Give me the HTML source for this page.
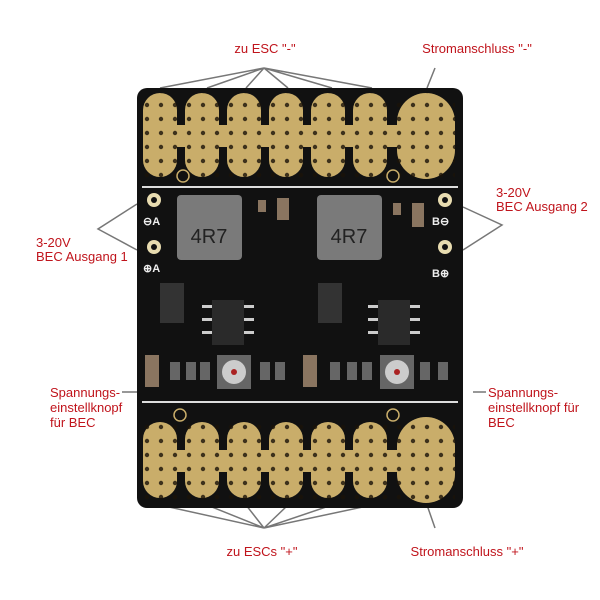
<!DOCTYPE html>
<html><head><meta charset="utf-8"><style>
body{margin:0;background:#fff;}
svg{display:block;font-family:"Liberation Sans",sans-serif;}
</style></head><body>
<svg width="600" height="600" viewBox="0 0 600 600">
<defs>
<pattern id="holes" x="0" y="0" width="14" height="14" patternUnits="userSpaceOnUse">
<circle cx="7" cy="7" r="2.2" fill="#1a1208"/>
</pattern>
</defs>
<g stroke="#777" stroke-width="1.5" fill="none">
<path d="M264 68L160 88M264 68L207 88M264 68L246 88M264 68L288 88M264 68L332 88M264 68L372 88M435 68L427 88"/>
<path d="M264 528L160 505M264 528L207 505M264 528L246 505M264 528L288 505M264 528L332 505M264 528L372 505M435 528L427 505"/>
<path d="M137 204L98 229L137 250M463 207L502 225L463 250"/>
<path d="M122 392L140 392M473 392L486 392"/>
</g>
<rect x="137" y="88" width="326" height="420" rx="10" fill="#111"/>
<g fill="#c9ad6a">
<rect x="143" y="125" width="310" height="22"/>
<rect x="143" y="93" width="34" height="84" rx="17"/>
<rect x="185" y="93" width="34" height="84" rx="17"/>
<rect x="227" y="93" width="34" height="84" rx="17"/>
<rect x="269" y="93" width="34" height="84" rx="17"/>
<rect x="311" y="93" width="34" height="84" rx="17"/>
<rect x="353" y="93" width="34" height="84" rx="17"/>
<rect x="397" y="93" width="58" height="86" rx="29"/>
<rect x="143" y="450" width="310" height="22"/>
<rect x="143" y="422" width="34" height="76" rx="17"/>
<rect x="185" y="422" width="34" height="76" rx="17"/>
<rect x="227" y="422" width="34" height="76" rx="17"/>
<rect x="269" y="422" width="34" height="76" rx="17"/>
<rect x="311" y="422" width="34" height="76" rx="17"/>
<rect x="353" y="422" width="34" height="76" rx="17"/>
<rect x="397" y="417" width="58" height="86" rx="29"/>
</g>
<rect x="143" y="93" width="312" height="86" fill="url(#holes)" opacity=".8"/>
<rect x="143" y="417" width="312" height="86" fill="url(#holes)" opacity=".8"/>
<rect x="142" y="186" width="316" height="2" fill="#ddd"/>
<rect x="142" y="401" width="316" height="2" fill="#ddd"/>
<g fill="none" stroke="#c9ad6a" stroke-width="1.5">
<circle cx="183" cy="176" r="6"/><circle cx="393" cy="176" r="6"/>
<circle cx="180" cy="415" r="6"/><circle cx="393" cy="415" r="6"/>
</g>
<g fill="#e8dcb0"><circle cx="154" cy="200" r="7"/><circle cx="154" cy="247" r="7"/><circle cx="445" cy="200" r="7"/><circle cx="445" cy="247" r="7"/></g>
<g fill="#111"><circle cx="154" cy="200" r="3"/><circle cx="154" cy="247" r="3"/><circle cx="445" cy="200" r="3"/><circle cx="445" cy="247" r="3"/></g>
<g fill="#eee" font-size="11" font-weight="bold">
<text x="143" y="225">⊖A</text><text x="143" y="272">⊕A</text>
<text x="432" y="225">B⊖</text><text x="432" y="277">B⊕</text>
</g>
<rect x="177" y="195" width="65" height="65" rx="4" fill="#7a7a7a"/>
<rect x="317" y="195" width="65" height="65" rx="4" fill="#7a7a7a"/>
<text x="209" y="243" font-size="20" text-anchor="middle" fill="#222">4R7</text>
<text x="349" y="243" font-size="20" text-anchor="middle" fill="#222">4R7</text>
<g fill="#8a7560"><rect x="277" y="198" width="12" height="22"/><rect x="412" y="203" width="12" height="24"/><rect x="145" y="355" width="14" height="32"/><rect x="303" y="355" width="14" height="32"/><rect x="258" y="200" width="8" height="12"/><rect x="393" y="203" width="8" height="12"/></g>
<rect x="160" y="283" width="24" height="40" fill="#333"/><rect x="318" y="283" width="24" height="40" fill="#333"/>
<rect x="212" y="300" width="32" height="45" fill="#2a2a2a"/><rect x="378" y="300" width="32" height="45" fill="#2a2a2a"/>
<g fill="#ccc"><rect x="202" y="305" width="10" height="3"/><rect x="202" y="318" width="10" height="3"/><rect x="202" y="331" width="10" height="3"/><rect x="244" y="305" width="10" height="3"/><rect x="244" y="318" width="10" height="3"/><rect x="244" y="331" width="10" height="3"/>
<rect x="368" y="305" width="10" height="3"/><rect x="368" y="318" width="10" height="3"/><rect x="368" y="331" width="10" height="3"/><rect x="410" y="305" width="10" height="3"/><rect x="410" y="318" width="10" height="3"/><rect x="410" y="331" width="10" height="3"/></g>
<rect x="217" y="355" width="34" height="34" fill="#666"/><circle cx="234" cy="372" r="12" fill="#ccc"/><circle cx="234" cy="372" r="3" fill="#a22"/>
<rect x="380" y="355" width="34" height="34" fill="#666"/><circle cx="397" cy="372" r="12" fill="#ccc"/><circle cx="397" cy="372" r="3" fill="#a22"/>
<g fill="#666"><rect x="170" y="362" width="10" height="18"/><rect x="186" y="362" width="10" height="18"/><rect x="200" y="362" width="10" height="18"/><rect x="260" y="362" width="10" height="18"/><rect x="275" y="362" width="10" height="18"/><rect x="330" y="362" width="10" height="18"/><rect x="347" y="362" width="10" height="18"/><rect x="362" y="362" width="10" height="18"/><rect x="420" y="362" width="10" height="18"/><rect x="438" y="362" width="10" height="18"/></g>
<g fill="#c0141c" font-size="13">
<text x="265" y="53" text-anchor="middle">zu ESC "-"</text>
<text x="477" y="53" text-anchor="middle">Stromanschluss "-"</text>
<text x="496" y="197">3-20V</text><text x="496" y="211">BEC Ausgang 2</text>
<text x="36" y="247">3-20V</text><text x="36" y="261">BEC Ausgang 1</text>
<text x="50" y="397">Spannungs-</text><text x="50" y="412">einstellknopf</text><text x="50" y="427">für BEC</text>
<text x="488" y="397">Spannungs-</text><text x="488" y="412">einstellknopf für</text><text x="488" y="427">BEC</text>
<text x="262" y="556" text-anchor="middle">zu ESCs "+"</text>
<text x="467" y="556" text-anchor="middle">Stromanschluss "+"</text>
</g>
</svg>
</body></html>
